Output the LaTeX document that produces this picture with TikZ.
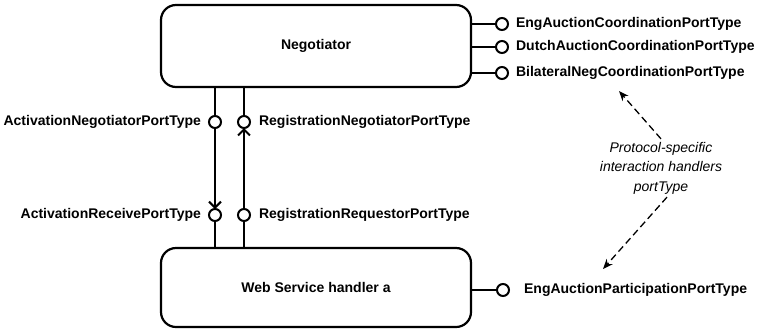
\documentclass[tikz,border=0pt]{standalone}
\usepackage{fontspec}
\setmainfont{Liberation Sans}
\usetikzlibrary{arrows.meta,positioning}

\begin{document}
\begin{tikzpicture}[x=1pt, y=-1pt, line width=2.2pt]

\tikzstyle{block}=[draw, rounded corners=15pt, minimum width=310pt, font=\fontsize{14}{17}\selectfont\bfseries]
\tikzstyle{port}=[draw, circle, fill=white, minimum size=12pt, inner sep=0pt, line width=2pt]
\tikzstyle{lbl}=[inner sep=0pt, font=\fontsize{14}{17}\selectfont\bfseries]
\tikzstyle{wire}=[line width=2.2pt]
\tikzstyle{call}=[wire, -{Straight Barb[length=6pt, width=12pt, line width=2pt]}, shorten >=-1pt]
\tikzstyle{hint}=[line width=1.3pt, dash pattern=on 7pt off 4pt, -{Stealth[length=10pt, width=8pt]}]

\useasboundingbox (0,0) rectangle (757,330);

% Boxes
\node[block, minimum height=82pt] (neg) at (316,46) {Negotiator};
\node[block, minimum height=79pt] (ws) at (316,287.5) {Web Service handler a};

% Coordination ports of the negotiator
\node[port] (pEng) at (502,24) {};
\node[port] (pDutch) at (502,47) {};
\node[port] (pBilat) at (502,73) {};
\draw[wire] (neg.east |- pEng) -- (pEng);
\draw[wire] (neg.east |- pDutch) -- (pDutch);
\draw[wire] (neg.east |- pBilat) -- (pBilat);
\node[lbl, anchor=west, right=6pt of pEng] {EngAuctionCoordinationPortType};
\node[lbl, anchor=west, right=6pt of pDutch] {DutchAuctionCoordinationPortType};
\node[lbl, anchor=west, right=6pt of pBilat] {BilateralNegCoordinationPortType};

% Activation and registration ports between the boxes
\node[port] (aNeg) at (215,122) {};
\node[port] (aRec) at (215,215) {};
\node[port] (rNeg) at (244,122) {};
\node[port] (rReq) at (244,215) {};

\draw[wire] (neg.south -| aNeg) -- (aNeg);
\draw[call] (aNeg) -- (aRec);
\draw[wire] (aRec) -- (ws.north -| aRec);
\draw[wire] (ws.north -| rReq) -- (rReq);
\draw[call] (rReq) -- (rNeg);
\draw[wire] (rNeg) -- (neg.south -| rNeg);

\node[lbl, left=6pt of aNeg] {ActivationNegotiatorPortType};
\node[lbl, left=6pt of aRec] {ActivationReceivePortType};
\node[lbl, right=7pt of rNeg] {RegistrationNegotiatorPortType};
\node[lbl, right=7pt of rReq] {RegistrationRequestorPortType};

% Participation port of the handler
\node[port] (pPart) at (503,290) {};
\draw[wire] (ws.east |- pPart) -- (pPart);
\node[lbl, right=13pt of pPart] {EngAuctionParticipationPortType};

% Note with dashed pointers
\node[align=center, inner sep=2pt, font=\fontsize{14}{19.5}\selectfont\itshape] (note) at (661,168) {Protocol-specific\\interaction handlers\\portType};
\coordinate (tipUp) at (619,91);
\coordinate (tipDown) at (603,269);
\draw[hint] (note.north) -- (tipUp);
\draw[hint] ([xshift=6pt]note.south) -- (tipDown);

\end{tikzpicture}
\end{document}
